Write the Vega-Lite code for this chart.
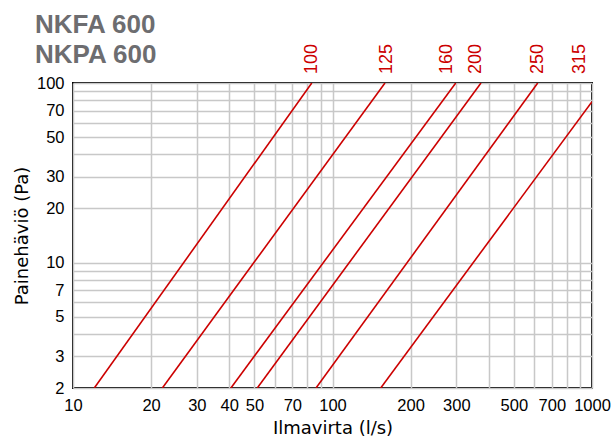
{
  "$schema": "https://vega.github.io/schema/vega-lite/v6.json",
  "width": 519,
  "height": 305,
  "autosize": {"type": "none"},
  "padding": {"left": 73, "top": 83, "right": 21, "bottom": 57},
  "background": "white",
  "title": {
    "text": ["NKFA 600", "NKPA 600"],
    "anchor": "start",
    "frame": "group",
    "orient": "top",
    "font": "Liberation Sans",
    "fontSize": 26,
    "fontWeight": "bold",
    "color": "#6d6d70",
    "lineHeight": 30,
    "dx": -38,
    "dy": 44,
    "offset": 20
  },
  "config": {
    "view": {"stroke": "black", "strokeWidth": 2},
    "axis": {
      "labelFont": "Liberation Sans",
      "labelFontSize": 16.5,
      "labelColor": "black",
      "titleFont": "DejaVu Sans",
      "titleFontSize": 18,
      "titleFontWeight": "normal",
      "titleColor": "black",
      "gridColor": "#c8c8c8",
      "gridWidth": 1.5,
      "gridOpacity": 1,
      "ticks": false,
      "domain": false
    }
  },
  "datasets": {
    "lines": [
      {"size": "100", "flow": 12.08, "pressure": 2},
      {"size": "100", "flow": 83.2, "pressure": 100},
      {"size": "125", "flow": 22.1, "pressure": 2},
      {"size": "125", "flow": 159.3, "pressure": 100},
      {"size": "160", "flow": 40.6, "pressure": 2},
      {"size": "160", "flow": 298.5, "pressure": 100},
      {"size": "200", "flow": 51.3, "pressure": 2},
      {"size": "200", "flow": 373.4, "pressure": 100},
      {"size": "250", "flow": 86.4, "pressure": 2},
      {"size": "250", "flow": 617.7, "pressure": 100},
      {"size": "315", "flow": 153.4, "pressure": 2},
      {"size": "315", "flow": 1000, "pressure": 78.7}
    ],
    "labels": [
      {"size": "100", "flow": 83.7},
      {"size": "125", "flow": 162.2},
      {"size": "160", "flow": 276.3},
      {"size": "200", "flow": 357.3},
      {"size": "250", "flow": 616.6},
      {"size": "315", "flow": 899}
    ]
  },
  "layer": [
    {
      "data": {"name": "lines"},
      "mark": {"type": "line", "color": "#cc0000", "strokeWidth": 1.6, "clip": true},
      "encoding": {
        "x": {
          "field": "flow",
          "type": "quantitative",
          "scale": {"type": "log", "domain": [10, 1000], "nice": false},
          "axis": {
            "title": "Ilmavirta (l/s)",
            "values": [10, 20, 30, 40, 50, 60, 70, 80, 90, 100, 200, 300, 400, 500, 600, 700, 800, 900, 1000],
            "format": "d",
            "labelExpr": "indexof([10,20,30,40,50,70,100,200,300,500,700,1000], datum.value) >= 0 ? datum.label : ''",
            "labelPadding": 9,
            "titlePadding": 6,
            "labelFlush": false,
            "labelOverlap": false
          }
        },
        "y": {
          "field": "pressure",
          "type": "quantitative",
          "scale": {"type": "log", "domain": [2, 100], "nice": false},
          "axis": {
            "title": "Painehäviö (Pa)",
            "values": [2, 3, 4, 5, 6, 7, 8, 9, 10, 20, 30, 40, 50, 60, 70, 80, 90, 100],
            "format": "d",
            "labelExpr": "indexof([2,3,5,7,10,20,30,50,70,100], datum.value) >= 0 ? datum.label : ''",
            "labelPadding": 9,
            "titlePadding": 5,
            "labelFlush": false,
            "labelOverlap": false
          }
        },
        "detail": {"field": "size"}
      }
    },
    {
      "data": {"name": "labels"},
      "mark": {
        "type": "text",
        "angle": 270,
        "align": "left",
        "baseline": "middle",
        "dx": 9,
        "font": "Liberation Sans",
        "fontSize": 18,
        "color": "#cc0000"
      },
      "encoding": {
        "x": {"field": "flow", "type": "quantitative"},
        "y": {"datum": 100, "type": "quantitative"},
        "text": {"field": "size"}
      }
    }
  ]
}
